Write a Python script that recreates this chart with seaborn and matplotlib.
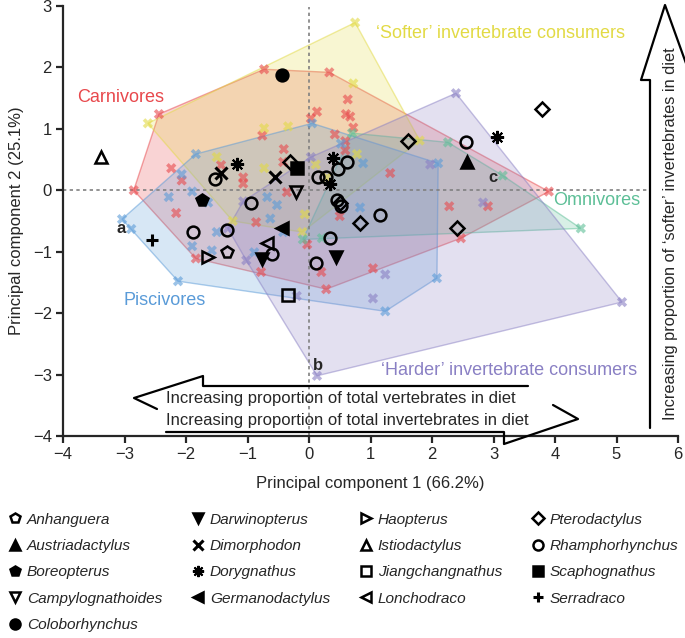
import numpy as np
import pandas as pd
import matplotlib
matplotlib.use("Agg")
import matplotlib.pyplot as plt
from matplotlib.lines import Line2D
import seaborn as sns

# ── Diet-group samples (PC1, PC2) ─────────────────────────────────────────────
carn_x = [-2.44, -0.73, 0.33, 0.63, 0.60, 0.67, 0.13, 0.03, 0.72, 0.42, -0.76, 0.59, 0.59,
          -0.41, -0.42, -1.43, -2.24, -2.07, -1.07, -1.07, -0.36, -2.85, -2.16, 1.32, 3.90,
          2.28, 2.91, 0.50, 2.47, 1.04, 0.20, 0.28, -1.84, -0.86, -0.78, -0.03]
carn_y = [1.24, 1.97, 1.92, 1.48, 1.24, 1.20, 1.28, 1.17, 1.02, 0.91, 0.89, 0.80, 0.65,
          0.67, 0.46, 0.41, 0.36, 0.16, 0.21, 0.11, -0.03, 0.00, -0.37, 0.28, -0.02,
          -0.26, -0.26, -0.42, -0.78, -1.27, -1.33, -1.61, -1.11, -0.52, -1.33, -0.88]

soft_x = [-2.62, 0.75, 0.72, -0.73, -0.34, -1.50, -0.73, 0.11, 0.78, 0.29, 1.80, -0.07, -0.11, -1.24]
soft_y = [1.09, 2.73, 1.74, 1.01, 1.04, 0.54, 0.36, 0.42, 0.59, 0.21, 0.81, -0.39, -0.68, -0.50]

omni_x = [0.70, 2.26, 3.15, 4.42, -0.10, 0.21]
omni_y = [0.93, 0.78, 0.24, -0.62, -0.80, -0.78]

pisc_x = [0.05, -1.84, -2.07, -2.28, -1.90, -0.68, -0.52, -0.63, -3.04, -2.89, 0.52, 0.88,
          2.10, 0.83, -2.13, -1.50, -1.90, -1.58, -0.89, -0.42, 2.08, 1.24, -1.64]
pisc_y = [1.09, 0.59, 0.26, -0.11, -0.02, -0.11, -0.24, -0.46, -0.47, -0.63, 0.76, 0.44,
          0.44, -0.28, -1.48, -0.68, -0.91, -0.98, -1.01, -0.68, -1.43, -1.97, -0.20]

hard_x = [2.39, 5.09, 0.13, -1.32, -1.07, 0.03, 1.97, 2.83, 1.24, 1.04, -0.20, -1.02]
hard_y = [1.58, -1.82, -3.02, -0.62, -0.18, 0.54, 0.42, -0.20, -1.37, -1.76, -1.72, -1.14]

groups = ["Carnivores", "‘Softer’ invertebrate consumers", "Omnivores",
          "Piscivores", "‘Harder’ invertebrate consumers"]
group_colors = ["#e8484c", "#e2da45", "#5dbf97", "#5a9bd8", "#8a80c4"]

# ── Pterosaur genera (PC1, PC2) ──────────────────────────────────────────────
genera = ["Anhanguera", "Austriadactylus", "Boreopterus", "Campylognathoides", "Coloborhynchus",
          "Darwinopterus", "Dimorphodon", "Dorygnathus", "Germanodactylus",
          "Haopterus", "Istiodactylus", "Jiangchangnathus", "Lonchodraco",
          "Pterodactylus", "Rhamphorhynchus", "Scaphognathus", "Serradraco"]
genus_x = [[-1.33], [2.57], [-1.74], [-0.21], [-0.44],
           [-0.76, 0.44], [-1.43, -0.55], [-1.17, 0.39, 0.34, 3.06], [-0.44],
           [-1.64], [-3.38], [-0.34], [-0.68],
           [-0.31, 1.61, 0.83, 3.79, 2.41, 0.50],
           [-1.53, -0.94, 0.15, 0.27, 0.47, 0.62, 1.15, 0.34, 0.11, -1.88, -1.33, -0.60, 2.55, 0.46, 0.52],
           [-0.20], [-2.55]]
genus_y = [[-1.01], [0.46], [-0.16], [-0.03], [1.87],
           [-1.12, -1.09], [0.28, 0.21], [0.42, 0.52, 0.10, 0.86], [-0.62],
           [-1.09], [0.54], [-1.71], [-0.85],
           [0.46, 0.81, -0.54, 1.33, -0.62, -0.20],
           [0.18, -0.20, 0.21, 0.21, 0.34, 0.46, -0.41, -0.77, -1.18, -0.68, -0.64, -1.03, 0.79, -0.15, -0.25],
           [0.37], [-0.81]]
# marker, filled
genus_style = [("p", False), ("^", True), ("p", True), ("v", False), ("o", True),
               ("v", True), ("x", True), ((8, 2, 0), True), ("<", True),
               (">", False), ("^", False), ("s", False), ("<", False),
               ("D", False), ("o", False), ("s", True), ("+", True)]


def convex_hull(pts):
    pts = sorted(set(map(tuple, pts)))
    def cross(o, a, b):
        return (a[0]-o[0])*(b[1]-o[1]) - (a[1]-o[1])*(b[0]-o[0])
    lower, upper = [], []
    for p in pts:
        while len(lower) >= 2 and cross(lower[-2], lower[-1], p) <= 0:
            lower.pop()
        lower.append(p)
    for p in reversed(pts):
        while len(upper) >= 2 and cross(upper[-2], upper[-1], p) <= 0:
            upper.pop()
        upper.append(p)
    return np.array(lower[:-1] + upper[:-1])


sns.set_style("ticks")
plt.rcParams["font.family"] = ["Liberation Sans", "DejaVu Sans"]

W, H = 685, 638
fig = plt.figure(figsize=(W/100, H/100), dpi=100)
ax = fig.add_axes([63/W, 1-436/H, 615/W, 430/H])

df = pd.concat([
    pd.DataFrame({"pc1": gx, "pc2": gy, "group": g})
    for g, gx, gy in zip(groups, [carn_x, soft_x, omni_x, pisc_x, hard_x],
                         [carn_y, soft_y, omni_y, pisc_y, hard_y])
])

# ── Convex hulls ──────────────────────────────────────────────────────────────
for g, col in zip(groups, group_colors):
    sub = df[df.group == g]
    hull = convex_hull(sub[["pc1", "pc2"]].values)
    ax.fill(hull[:, 0], hull[:, 1], facecolor=col, alpha=0.24, edgecolor="none", zorder=1)
    ax.fill(hull[:, 0], hull[:, 1], facecolor="none", edgecolor=col, alpha=0.5, lw=1.0, zorder=1)

sns.scatterplot(data=df, x="pc1", y="pc2", hue="group", palette=group_colors,
                marker="X", s=55, alpha=0.6, linewidth=0, legend=False, ax=ax, zorder=2)

# reference lines
ax.plot([-4, 5.5], [0, 0], ls=(0, (2, 2)), color="#808080", lw=1.2, zorder=1.5)
ax.plot([0, 0], [-4, 2.98], ls=(0, (2, 2)), color="#808080", lw=1.2, zorder=1.5)

# ── Genus markers ─────────────────────────────────────────────────────────────
handles = []
for name, gx, gy, (mk, filled) in zip(genera, genus_x, genus_y, genus_style):
    ms = 7 if mk == "D" else 8.5
    if mk == (8, 2, 0):
        ms, mew = 9.5, 1.5
    elif mk in ("x", "+"):
        mew = 2.2
    else:
        mew = 1.8
    kw = dict(marker=mk, ls="none", ms=ms, mew=mew, mec="black",
              mfc="black" if filled else "none")
    ax.plot(gx, gy, zorder=4, **kw)
    kw_leg = dict(kw, ms=ms*0.85)
    handles.append(Line2D([], [], label=name, **kw_leg))

# ── Labels in plot ────────────────────────────────────────────────────────────
lab_pos = [(-3.77, 1.51), (1.09, 2.55), (3.97, -0.16), (-3.01, -1.79), (1.17, -2.94)]
for g, col, (lx, ly) in zip(groups, group_colors, lab_pos):
    ax.text(lx, ly, g, color=col, fontsize=13, ha="left", va="center", zorder=5)

for t, (lx, ly) in zip(["a", "b", "c"], [(-3.06, -0.63), (0.15, -2.86), (2.99, 0.21)]):
    ax.text(lx, ly, t, fontsize=12, fontweight="bold", ha="center", va="center", zorder=5)

ax.set_xlim(-4, 6)
ax.set_ylim(-4, 3)
ax.set_xticks(range(-4, 7))
ax.set_yticks(range(-4, 4))
ax.set_xlabel("Principal component 1 (66.2%)", fontsize=12, labelpad=10)
ax.set_ylabel("Principal component 2 (25.1%)", fontsize=12, labelpad=6)
sns.despine(ax=ax)
for s in ["left", "bottom"]:
    ax.spines[s].set_linewidth(1.6)
ax.tick_params(direction="out", length=5, width=1.6, labelsize=12, pad=3)

# ── Arrows drawn in figure pixels ────────────────────────────────────────────
def fig_line(px, py):
    fig.add_artist(Line2D(np.array(px)/W, 1-np.array(py)/H, color="black", lw=1.6,
                          transform=fig.transFigure))

fig_line([528, 203, 203, 134, 157], [386, 386, 376, 398, 409])
fig_line([166, 504, 504, 578, 553], [432, 432, 444, 419, 405])
fig_line([650, 650, 641, 665, 692], [428, 80, 80, 5, 80])

fig.text(166/W, 1-398/H, "Increasing proportion of total vertebrates in diet",
         fontsize=12, ha="left", va="center")
fig.text(166/W, 1-420/H, "Increasing proportion of total invertebrates in diet",
         fontsize=12, ha="left", va="center")
fig.text(670/W, 1-234/H, "Increasing proportion of ‘softer’ invertebrates in diet",
         fontsize=11.8, ha="center", va="center", rotation=90)

# ── Legend ────────────────────────────────────────────────────────────────────
fig.legend(handles=handles, ncol=4, loc="upper left", bbox_to_anchor=(0.0, 1-505/H),
           frameon=False, prop={"style": "italic", "size": 11.1}, handlelength=0.9,
           handletextpad=0.35, columnspacing=1.84, labelspacing=0.8, borderpad=0)

fig.savefig("out.png", dpi=100)
